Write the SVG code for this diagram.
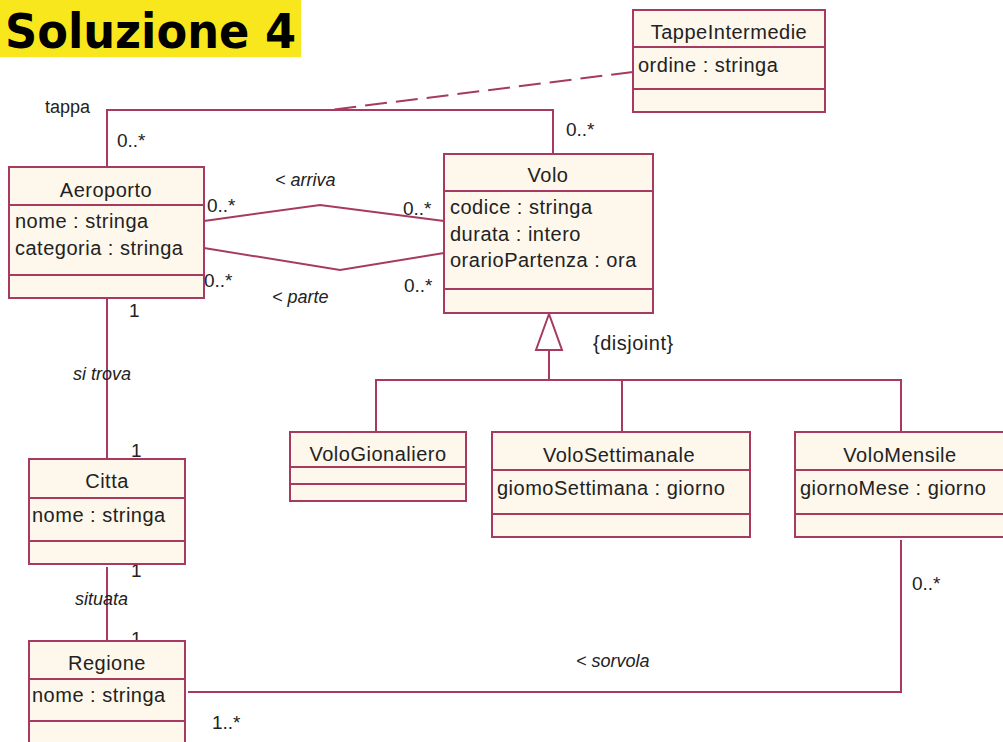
<svg xmlns="http://www.w3.org/2000/svg" width="1003" height="742" viewBox="0 0 1003 742">
  <style>
    .box { fill: #fdf7ec; stroke: #a63a60; stroke-width: 2; }
    .sep { stroke: #a63a60; stroke-width: 2; fill: none; }
    .edge { stroke: #a63a60; stroke-width: 2; fill: none; }
    .dash { stroke: #a63a60; stroke-width: 2; fill: none; stroke-dasharray: 22 9; }
    text { font-family: "Liberation Sans", Arial, sans-serif; fill: #222; }
    .name { font-size: 20px; text-anchor: middle; letter-spacing: 0.5px; }
    .attr { font-size: 20px; letter-spacing: 0.5px; }
    .role { font-size: 18px; font-style: italic; }
    .mult { font-size: 19px; }
  </style>

  <!-- heading -->
  <rect x="0" y="0" width="301" height="57" fill="#f8e71c"/>
  <text x="5" y="48" font-size="48" font-weight="bold" textLength="291" lengthAdjust="spacingAndGlyphs" style="font-family:'DejaVu Sans', sans-serif; fill:#000">Soluzione 4</text>

  <!-- connectors -->
  <g id="connectors">
    <!-- tappa (Aeroporto - Volo) -->
    <polyline class="edge" points="107,167 107,110 553,110 553,153"/>
    <!-- association class link -->
    <line class="dash" x1="633" y1="72" x2="330" y2="110"/>
    <!-- arriva -->
    <polyline class="edge" points="204,221 320,205 444,221"/>
    <!-- parte -->
    <polyline class="edge" points="204,248 340,270 444,253"/>
    <!-- generalization Volo -->
    <polygon points="549,314 536,350 562,350" fill="#fff" stroke="#a63a60" stroke-width="2"/>
    <polyline class="edge" points="549,350 549,380"/>
    <polyline class="edge" points="376,432 376,380 901,380 901,432"/>
    <line class="edge" x1="622" y1="380" x2="622" y2="432"/>
    <!-- si trova -->
    <line class="edge" x1="107" y1="298" x2="107" y2="459"/>
    <!-- situata -->
    <line class="edge" x1="107" y1="567" x2="107" y2="640"/>
    <!-- sorvola -->
    <polyline class="edge" points="901,540 901,692 188,692"/>

    <text class="role" x="45" y="113" style="font-style:normal">tappa</text>
    <text class="mult" x="117" y="147">0..*</text>
    <text class="mult" x="566" y="136">0..*</text>
    <text class="role" x="275" y="186">&lt; arriva</text>
    <text class="role" x="272" y="303">&lt; parte</text>
    <text class="mult" x="207" y="212">0..*</text>
    <text class="mult" x="204" y="287">0..*</text>
    <text class="mult" x="403" y="215">0..*</text>
    <text class="mult" x="404" y="292">0..*</text>
    <text class="attr" x="593" y="350">{disjoint}</text>
    <text class="mult" x="129" y="317">1</text>
    <text class="role" x="73" y="380">si trova</text>
    <text class="mult" x="131" y="457">1</text>
    <text class="mult" x="131" y="577">1</text>
    <text class="role" x="75" y="605">situata</text>
    <text class="mult" x="131" y="645">1</text>
    <text class="mult" x="212" y="729">1..*</text>
    <text class="mult" x="912" y="590">0..*</text>
    <text class="role" x="576" y="667">&lt; sorvola</text>
  </g>

  <g id="TappeIntermedie">
    <rect class="box" x="633" y="10" width="192" height="102"/>
    <line class="sep" x1="633" y1="47" x2="825" y2="47"/>
    <line class="sep" x1="633" y1="89" x2="825" y2="89"/>
    <text class="name" x="729" y="39">TappeIntermedie</text>
    <text class="attr" x="638" y="72">ordine : stringa</text>
  </g>

  <g id="Aeroporto">
    <rect class="box" x="9" y="167" width="195" height="131"/>
    <line class="sep" x1="9" y1="205" x2="204" y2="205"/>
    <line class="sep" x1="9" y1="275" x2="204" y2="275"/>
    <text class="name" x="106" y="197">Aeroporto</text>
    <text class="attr" x="15" y="228">nome : stringa</text>
    <text class="attr" x="15" y="255">categoria : stringa</text>
  </g>

  <g id="Volo">
    <rect class="box" x="444" y="154" width="209" height="159"/>
    <line class="sep" x1="444" y1="191" x2="653" y2="191"/>
    <line class="sep" x1="444" y1="289" x2="653" y2="289"/>
    <text class="name" x="548" y="182">Volo</text>
    <text class="attr" x="450" y="214">codice : stringa</text>
    <text class="attr" x="450" y="241">durata : intero</text>
    <text class="attr" x="450" y="267">orarioPartenza : ora</text>
  </g>

  <g id="VoloGionaliero">
    <rect class="box" x="290" y="432" width="176" height="69"/>
    <line class="sep" x1="290" y1="467" x2="466" y2="467"/>
    <line class="sep" x1="290" y1="484" x2="466" y2="484"/>
    <text class="name" x="378" y="461">VoloGionaliero</text>
  </g>

  <g id="VoloSettimanale">
    <rect class="box" x="492" y="432" width="258" height="105"/>
    <line class="sep" x1="492" y1="470" x2="750" y2="470"/>
    <line class="sep" x1="492" y1="514" x2="750" y2="514"/>
    <text class="name" x="619" y="462">VoloSettimanale</text>
    <text class="attr" x="497" y="495">giomoSettimana : giorno</text>
  </g>

  <g id="VoloMensile">
    <rect class="box" x="795" y="432" width="214" height="105"/>
    <line class="sep" x1="795" y1="470" x2="1003" y2="470"/>
    <line class="sep" x1="795" y1="514" x2="1003" y2="514"/>
    <text class="name" x="900" y="462">VoloMensile</text>
    <text class="attr" x="800" y="495">giornoMese : giorno</text>
  </g>

  <g id="Citta">
    <rect class="box" x="29" y="459" width="156" height="105"/>
    <line class="sep" x1="29" y1="498" x2="185" y2="498"/>
    <line class="sep" x1="29" y1="541" x2="185" y2="541"/>
    <text class="name" x="107" y="488">Citta</text>
    <text class="attr" x="32" y="522">nome : stringa</text>
  </g>

  <g id="Regione">
    <rect class="box" x="29" y="641" width="156" height="110"/>
    <line class="sep" x1="29" y1="679" x2="185" y2="679"/>
    <line class="sep" x1="29" y1="721" x2="185" y2="721"/>
    <text class="name" x="107" y="670">Regione</text>
    <text class="attr" x="32" y="702">nome : stringa</text>
  </g>
</svg>
